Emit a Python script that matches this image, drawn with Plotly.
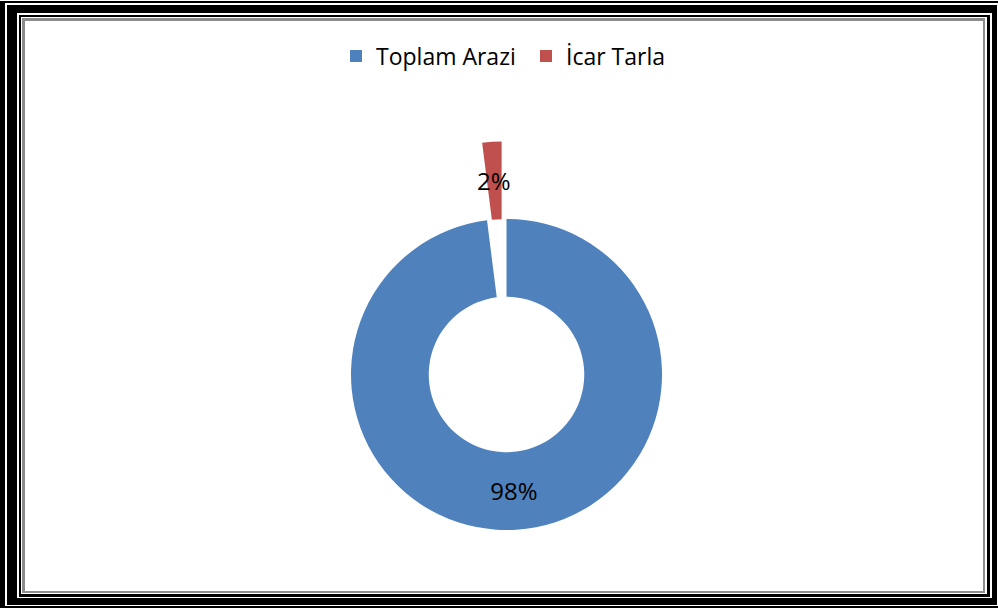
import math
import plotly.graph_objects as go

labels = ['Toplam Arazi', 'İcar Tarla']
values = [98, 2]
colors = ['#4F81BD', '#C0504D']
pulls = [0, 0.5]

W, H = 998, 608


def px(x0, y0, x1, y1):
    # pixel box -> paper coords (margins are zero)
    return dict(x0=x0 / W, x1=x1 / W, y0=1 - y1 / H, y1=1 - y0 / H)


# double frame round the chart, outer to inner
frame = [
    ((0, 1, 998, 608), 'black'),
    ((5, 3, 998, 606), 'white'),
    ((7, 5, 997, 605), 'black'),
    ((17, 13, 992, 598), 'white'),
    ((19, 15, 990, 597), 'black'),
    ((21, 17, 987, 594), 'white'),
    ((22, 18, 985, 593), '#8c8c8c'),
    ((25, 21, 983, 591), 'white'),
]
shapes = []
for box, col in frame:
    shapes.append(dict(type='rect', xref='paper', yref='paper', layer='below',
                       fillcolor=col, line=dict(width=0), **px(*box)))

hole = 0.5
cx, cy, r = 506.5, 374.5, 155.5
half = r * (1 + max(pulls))
dom_x = [(cx - half) / W, (cx + half) / W]
dom_y = [max(0, 1 - (cy + half) / H), 1 - (cy - half) / H]

# the thin slice is too narrow for plotly's inside text, so its label
# goes on an annotation placed at the middle of the pulled slice
total = sum(values)
start = sum(values[:1]) / total * 360
mid = math.radians(start + values[1] / total * 180)
rad = r * ((1 + hole) / 2 + pulls[1])
lx = cx + rad * math.sin(mid)
ly = cy - rad * math.cos(mid)

fig = go.Figure(go.Pie(
    labels=labels, values=values, hole=hole, sort=False,
    direction='clockwise', rotation=0, pull=pulls,
    marker=dict(colors=colors, line=dict(width=0)),
    texttemplate=['%{percent:.0%}', ''], textposition='inside',
    insidetextorientation='horizontal',
    textfont=dict(family='Open Sans', size=24, color='black'),
    domain=dict(x=dom_x, y=dom_y),
))

fig.add_annotation(x=lx / W, y=1 - ly / H, xref='paper', yref='paper',
                   xanchor='center', yanchor='middle',
                   text='{:.0%}'.format(values[1] / total), showarrow=False,
                   font=dict(family='Open Sans', size=24, color='black'))

fig.update_layout(
    width=W, height=H,
    margin=dict(l=0, r=0, t=0, b=0),
    paper_bgcolor='white',
    shapes=shapes,
    uniformtext=dict(minsize=24, mode='show'),
    legend=dict(orientation='h', x=(376 - 40) / W, xanchor='left', y=1 - 56 / H, yanchor='middle',
                font=dict(family='Open Sans', size=23, color='black'),
                entrywidth=145, entrywidthmode='pixels',
                itemwidth=30, traceorder='normal'),
)

fig.write_html("out.html", config={'displayModeBar': False},
               post_script="document.body.style.margin='0';")
